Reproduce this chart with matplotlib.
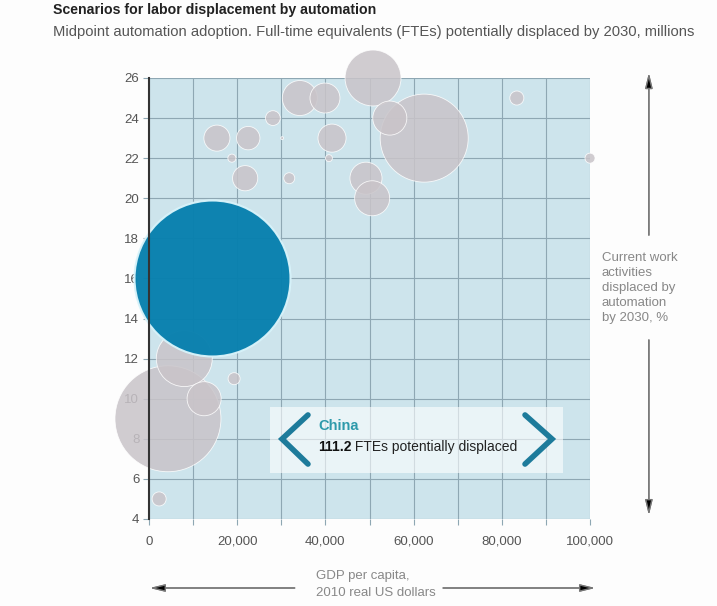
import matplotlib
matplotlib.use('Agg')
import numpy as np
import matplotlib.pyplot as plt
from matplotlib.patches import Rectangle

plt.rcParams['font.family'] = ['Liberation Sans', 'DejaVu Sans']

# GDP per capita (2010 USD), share of work displaced (%), FTEs displaced (millions)
gdp = [50800, 34200, 39900, 28100, 15400, 22500, 30200, 18800, 21800, 31800,
       41500, 40800, 49200, 50600, 62400, 54600, 83400, 100000,
       4300, 8000, 12500, 19300, 2300]
pct = [26, 25, 25, 24, 23, 23, 23, 22, 21, 21,
       23, 22, 21, 20, 23, 24, 25, 22,
       9, 12, 10, 11, 5]
fte = [14.3, 5.6, 4.1, 1.0, 3.1, 2.5, 0.04, 0.3, 2.9, 0.55,
       3.6, 0.22, 4.7, 5.6, 35.4, 5.3, 0.9, 0.46,
       51.3, 14.3, 5.3, 0.66, 0.9]

china_gdp = 14200
china_pct = 16
china_fte = 111.2

xticks = list(range(0, 100001, 10000))
yticks = list(range(4, 27, 2))

fig = plt.figure(figsize=(7.17, 6.06), dpi=100)
fig.patch.set_facecolor('#fdfdfd')
ax = fig.add_axes([0.2078, 0.1436, 0.6151, 0.7277])
ax.set_facecolor('#cde4ec')

# marker size: area proportional to FTEs (China ~78 px radius)
k = (2 * 78 * 0.72) ** 2 / china_fte
ax.scatter(gdp, pct, s=[k * v for v in fte], color='#c9c4c9', alpha=0.85,
           edgecolors=(1, 1, 1, 0.15), linewidths=0.6, clip_on=False, zorder=3)
ax.scatter([china_gdp], [china_pct], s=[k * china_fte], color='#0880ae',
           edgecolors='#d8f3fa', linewidths=1.5, alpha=0.97, clip_on=False, zorder=4)

ax.set_xlim(0, 100000)
ax.set_ylim(4, 26)
ax.set_xticks(xticks)
ax.set_xticklabels(['{:,}'.format(v) if v % 20000 == 0 else '' for v in xticks])
ax.set_yticks(yticks)
ax.grid(True, color='#8ea7b3', linewidth=0.8, zorder=1)
ax.set_axisbelow(True)
for s in ['top', 'right', 'bottom']:
    ax.spines[s].set_visible(False)
ax.spines['left'].set_color('#333333')
ax.spines['left'].set_linewidth(1.5)
ax.spines['left'].set_zorder(5)
ax.tick_params(axis='both', colors='#8ea7b3', labelcolor='#555555',
               labelsize=9.5, length=4)
ax.tick_params(axis='x', pad=8)
ax.tick_params(axis='y', pad=3)

# tooltip box
ax.add_patch(Rectangle((27400, 6.3), 66500, 3.3, facecolor='white', alpha=0.6,
                       edgecolor='none', zorder=6))
chev = dict(color='#1d7b9b', linewidth=4, solid_capstyle='round',
            solid_joinstyle='miter', zorder=7, clip_on=False)
ax.plot([36050, 30160, 36050], [9.19, 7.99, 6.74], **chev)
ax.plot([85260, 91380, 85260], [9.19, 7.99, 6.74], **chev)
ax.text(38300, 8.65, 'China', color='#2e9aab', fontsize=10.5, fontweight='bold',
        va='center', ha='left', zorder=8)
t1 = ax.text(38300, 7.6, '111.2', color='#111111', fontsize=10, fontweight='bold',
             va='center', ha='left', zorder=8)
ax.annotate(' FTEs potentially displaced', xy=(1, 0.5), xycoords=t1,
            va='center', ha='left', fontsize=10, color='#222222', zorder=8)

# titles
fig.text(0.074, 0.983, 'Scenarios for labor displacement by automation',
         fontsize=10.2, fontweight='bold', color='#222222', va='center')
fig.text(0.074, 0.947, 'Midpoint automation adoption. Full-time equivalents (FTEs) '
         'potentially displaced by 2030, millions',
         fontsize=10.6, color='#555555', va='center')

# axis captions with arrows
arrow = dict(arrowstyle='-|>,head_length=0.9,head_width=0.22', color='#777777',
             lw=1, shrinkA=0, shrinkB=0)
fig.text(0.8396, 0.525, 'Current work\nactivities\ndisplaced by\nautomation\nby 2030, %',
         fontsize=9.5, color='#888888', va='center', ha='left', linespacing=1.34)
a = fig.add_artist(plt.annotate('', xy=(0.905, 0.8795), xytext=(0.905, 0.612),
                                xycoords='figure fraction', arrowprops=arrow))
b = fig.add_artist(plt.annotate('', xy=(0.905, 0.150), xytext=(0.905, 0.439),
                                xycoords='figure fraction', arrowprops=arrow))
fig.text(0.4407, 0.0355, 'GDP per capita,\n2010 real US dollars',
         fontsize=9.5, color='#888888', va='center', ha='left', linespacing=1.55)
c = fig.add_artist(plt.annotate('', xy=(0.209, 0.0297), xytext=(0.411, 0.0297),
                                xycoords='figure fraction', arrowprops=arrow))
d = fig.add_artist(plt.annotate('', xy=(0.830, 0.0297), xytext=(0.618, 0.0297),
                                xycoords='figure fraction', arrowprops=arrow))
for art in (a, b, c, d):
    art.arrow_patch.set_facecolor('black')
    art.arrow_patch.set_edgecolor('#777777')

fig.savefig('out.png', dpi=100, facecolor=fig.get_facecolor())
